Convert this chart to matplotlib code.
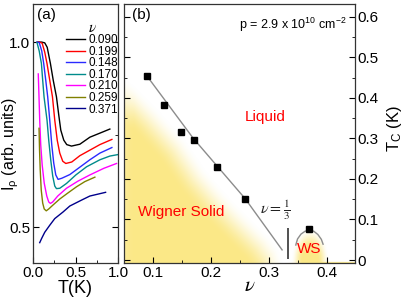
import matplotlib
matplotlib.use("Agg")
import matplotlib.pyplot as plt
import numpy as np

plt.rcParams['font.family'] = ['Liberation Sans', 'DejaVu Sans']
plt.rcParams['mathtext.fontset'] = 'custom'
plt.rcParams['mathtext.rm'] = 'Liberation Sans'
plt.rcParams['mathtext.it'] = 'Liberation Sans:italic'

# ---- panel (a): I_rho vs T for several filling factors ----
nu_labels = ['0.090', '0.199', '0.148', '0.170', '0.210', '0.259', '0.371']
curve_colors = ['black', '#ff0000', '#2a2aff', '#008b8b', '#ff00ff', '#808000', '#00008b']

T_black = [0.059, 0.103, 0.138, 0.167, 0.205, 0.238, 0.276, 0.303, 0.327, 0.362, 0.397, 0.453, 0.551, 0.669, 0.787, 0.904]
I_black = [1.000, 1.000, 0.998, 0.986, 0.942, 0.897, 0.852, 0.803, 0.762, 0.735, 0.723, 0.719, 0.724, 0.743, 0.754, 0.765]

T_red = [0.050, 0.079, 0.108, 0.138, 0.165, 0.197, 0.229, 0.256, 0.285, 0.315, 0.350, 0.386, 0.456, 0.551, 0.669, 0.787, 0.928]
I_red = [1.000, 1.000, 0.997, 0.973, 0.942, 0.897, 0.852, 0.789, 0.735, 0.700, 0.678, 0.672, 0.676, 0.693, 0.708, 0.723, 0.737]

T_blue = [0.044, 0.073, 0.103, 0.126, 0.150, 0.173, 0.197, 0.221, 0.244, 0.268, 0.295, 0.338, 0.433, 0.551, 0.669, 0.787, 0.928]
I_blue = [1.000, 0.999, 0.976, 0.942, 0.897, 0.852, 0.789, 0.722, 0.673, 0.641, 0.629, 0.632, 0.642, 0.662, 0.682, 0.700, 0.715]

T_teal = [0.047, 0.073, 0.099, 0.114, 0.130, 0.150, 0.165, 0.185, 0.209, 0.232, 0.256, 0.276, 0.315, 0.394, 0.504, 0.630, 0.787, 0.904, 0.999]
I_teal = [0.999, 0.976, 0.942, 0.897, 0.852, 0.816, 0.789, 0.735, 0.681, 0.638, 0.611, 0.604, 0.605, 0.618, 0.641, 0.663, 0.682, 0.692, 0.696]

T_mag = [0.062, 0.070, 0.079, 0.091, 0.108, 0.132, 0.162, 0.185, 0.205, 0.232, 0.291, 0.394, 0.527, 0.669, 0.834, 0.983]
I_mag = [0.914, 0.857, 0.789, 0.722, 0.668, 0.619, 0.584, 0.568, 0.564, 0.568, 0.584, 0.605, 0.624, 0.641, 0.659, 0.672]

T_olive = [0.071, 0.077, 0.085, 0.097, 0.114, 0.132, 0.156, 0.185, 0.232, 0.315, 0.409, 0.512, 0.610, 0.728]
I_olive = [0.767, 0.708, 0.654, 0.600, 0.565, 0.549, 0.544, 0.549, 0.559, 0.576, 0.592, 0.609, 0.623, 0.635]

T_navy = [0.079, 0.103, 0.138, 0.197, 0.256, 0.354, 0.433, 0.571, 0.669, 0.854]
I_navy = [0.458, 0.470, 0.486, 0.505, 0.523, 0.541, 0.557, 0.573, 0.584, 0.594]

curves_T = [T_black, T_red, T_blue, T_teal, T_mag, T_olive, T_navy]
curves_I = [I_black, I_red, I_blue, I_teal, I_mag, I_olive, I_navy]

# ---- panel (b): phase diagram ----
nu_pts = [0.090, 0.119, 0.148, 0.170, 0.210, 0.259]
Tc_pts = [0.454, 0.383, 0.317, 0.296, 0.229, 0.150]
nu_ws = [0.369]
Tc_ws = [0.076]

# guide line through transition points
line_nu = [0.0897, 0.169, 0.259, 0.3224]
line_T = [0.454, 0.301, 0.151, 0.025]

# small dome around reentrant WS
dome_nu = [0.346, 0.349, 0.355, 0.362, 0.369, 0.377, 0.384, 0.390, 0.393]
dome_T = [0.037, 0.052, 0.064, 0.071, 0.074, 0.071, 0.063, 0.051, 0.039]

# outer edge of the yellow Wigner-solid region
edge_nu = [0.050, 0.0776, 0.112, 0.158, 0.193, 0.227, 0.267, 0.302, 0.319, 0.326]
edge_T = [0.457, 0.420, 0.370, 0.296, 0.222, 0.165, 0.107, 0.0575, 0.0247, -0.005]

nu_third = 1.0 / 3.0

fig = plt.figure(figsize=(4.07, 3.0), dpi=100)
W, H = 407.0, 300.0
axa = fig.add_axes([33 / W, 1 - 263 / H, 85 / W, 259 / H])
axb = fig.add_axes([124 / W, 1 - 263 / H, 231 / W, 259 / H])

# ---------------- panel (a) ----------------
handles = []
for t, i, c, lab in zip(curves_T, curves_I, curve_colors, nu_labels):
    ln, = axa.plot(t, i, color=c, lw=1.0, label=lab)
    handles.append(ln)

axa.set_xlim(0, 1.0)
axa.set_ylim(0.403, 1.103)
axa.set_xticks([0, 0.5, 1.0])
axa.set_xticklabels(['0.0', '0.5', '1.0'])
axa.set_xticks([0.25, 0.75], minor=True)
axa.set_yticks([0.5, 1.0])
axa.set_yticklabels(['0.5', '1.0'])
axa.set_yticks([0.75], minor=True)
axa.tick_params(which='both', direction='in', left=True, right=True, labelsize=11, pad=2)
axa.tick_params(which='major', length=4)
axa.tick_params(which='minor', length=2.5)
axa.set_xlabel('T(K)', fontsize=13, labelpad=0)
axa.set_ylabel(r'I$_\mathrm{\rho}$ (arb. units)', fontsize=11.5)
axa.yaxis.set_label_coords(-0.14, 0.46)
axa.text(0.05, 0.985, '(a)', transform=axa.transAxes, fontsize=11, va='top', ha='left')

leg = axa.legend(handles=handles, loc='upper right', bbox_to_anchor=(1.0, 0.935),
                 frameon=False, fontsize=8.5, title=r'$\nu$', title_fontsize=11,
                 handlelength=1.6, handletextpad=0.25, labelspacing=-0.04,
                 borderaxespad=0.0, borderpad=0.0)
leg.get_title().set_math_fontfamily('stix')

# ---------------- panel (b) ----------------
xl = (0.050, 0.448)
yl = (-0.0074, 0.632)
axb.set_xlim(*xl)
axb.set_ylim(*yl)

# yellow gradient shading (computed in pixel space)
sx = 231.0 / (xl[1] - xl[0])
sy = 259.0 / (yl[1] - yl[0])
gnu = np.linspace(xl[0], xl[1], 460)
gT = np.linspace(yl[0], yl[1], 520)
NU, TT = np.meshgrid(gnu, gT)
X = NU * sx
Y = TT * sy
bx = np.array(edge_nu) * sx
by = np.array(edge_T) * sy
dist = np.full(X.shape, np.inf)
for k in range(len(bx) - 1):
    dx, dy = bx[k + 1] - bx[k], by[k + 1] - by[k]
    u = np.clip(((X - bx[k]) * dx + (Y - by[k]) * dy) / (dx * dx + dy * dy), 0, 1)
    d = np.hypot(X - (bx[k] + u * dx), Y - (by[k] + u * dy))
    dist = np.minimum(dist, d)
inside = TT < np.interp(NU, edge_nu, edge_T)
a_main = np.where(inside, np.clip(dist / 34.0, 0, 1), 0.0)
# slight fade at the left axis
a_main *= np.clip(0.75 + (X - X.min()) / 40.0, 0, 1)
r = np.hypot((NU - 0.371) * sx / 19.0, (TT + 0.005) * sy / 34.0)
a_ws = np.clip((1 - r) / 0.6, 0, 1)
alpha = np.maximum(a_main, a_ws)
alpha = alpha * alpha * (3 - 2 * alpha)
img = np.zeros(X.shape + (4,))
img[..., 0] = 0.985
img[..., 1] = 0.91
img[..., 2] = 0.53
img[..., 3] = alpha
axb.imshow(img, extent=[xl[0], xl[1], yl[0], yl[1]], origin='lower',
           aspect='auto', interpolation='bilinear', zorder=0)

axb.plot(line_nu, line_T, color='#8c8c8c', lw=1.0, zorder=2)
axb.plot(dome_nu, dome_T, color='#8c8c8c', lw=1.0, zorder=2)
axb.plot(nu_pts, Tc_pts, 's', color='black', ms=4.2, zorder=3)
axb.plot(nu_ws, Tc_ws, 's', color='black', ms=4.2, zorder=3)
axb.vlines(nu_third, 0.002, 0.080, color='#333333', lw=1.2, zorder=2)

axb.text(0.310, 0.122, r'$\nu = \frac{1}{3}$', fontsize=11.5, ha='center', va='center',
         math_fontfamily='stix', color='#222222')
axb.text(0.294, 0.353, 'Liquid', color='red', fontsize=11, ha='center', va='center')
axb.text(0.149, 0.118, 'Wigner Solid', color='red', fontsize=11, ha='center', va='center')
axb.text(0.369, 0.027, 'WS', color='red', fontsize=11, ha='center', va='center')
axb.text(0.035, 0.985, '(b)', transform=axb.transAxes, fontsize=11, va='top', ha='left')
axb.text(0.965, 0.955, r'p = 2.9 x 10$^{10}$ cm$^{-2}$', transform=axb.transAxes,
         fontsize=9, va='top', ha='right')

axb.set_xticks([0.1, 0.2, 0.3, 0.4])
axb.set_xticklabels(['0.1', '0.2', '0.3', '0.4'])
axb.set_xticks([0.05, 0.15, 0.25, 0.35], minor=True)
T_ticks = [0, 0.1, 0.2, 0.3, 0.4, 0.5, 0.6]
axb.set_yticks(T_ticks)
axb.set_yticklabels(['0', '0.1', '0.2', '0.3', '0.4', '0.5', '0.6'])
axb.set_yticks([0.05, 0.15, 0.25, 0.35, 0.45, 0.55], minor=True)
axb.yaxis.tick_right()
axb.yaxis.set_label_position('right')
axb.tick_params(which='both', direction='in', left=True, right=True, labelsize=11, pad=2)
axb.tick_params(which='major', length=4)
axb.tick_params(which='minor', length=2.5)
xlab = axb.set_xlabel(r'$\nu$', fontsize=15)
xlab.set_math_fontfamily('stix')
axb.xaxis.set_label_coords(0.545, -0.05)
axb.set_ylabel(r'T$_\mathrm{C}$ (K)', fontsize=12)
axb.yaxis.set_label_coords(1.13, 0.52)

for ax in (axa, axb):
    for s in ax.spines.values():
        s.set_linewidth(0.9)
        s.set_color('#333333')

fig.savefig('out.png', dpi=100)
